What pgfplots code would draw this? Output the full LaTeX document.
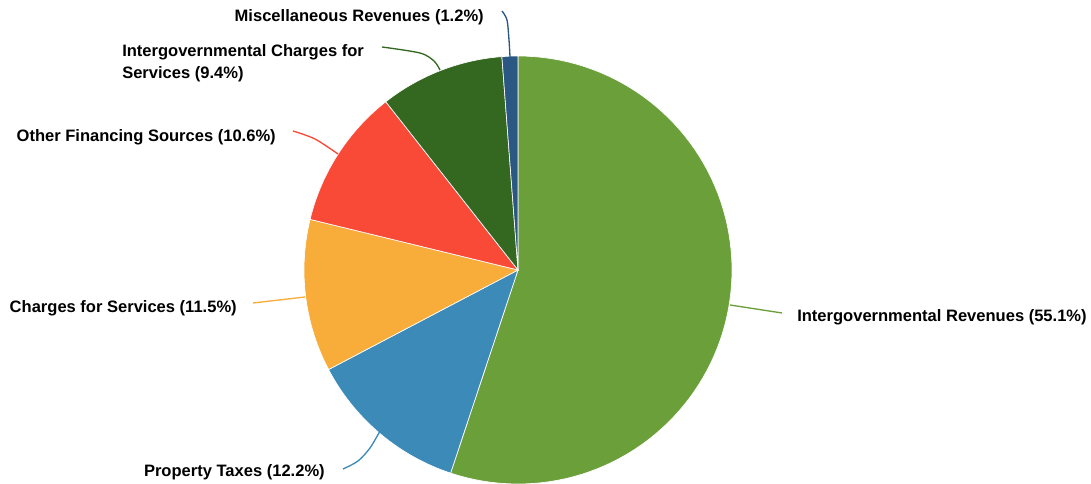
\documentclass[border=0pt]{standalone}
\usepackage{fontspec}
\setmainfont{Liberation Sans}
\usepackage{pgfplots}
\pgfplotsset{compat=1.18}
\definecolor{cA}{RGB}{106,159,58}
\definecolor{cB}{RGB}{60,138,184}
\definecolor{cC}{RGB}{248,172,58}
\definecolor{cD}{RGB}{249,74,55}
\definecolor{cE}{RGB}{52,104,32}
\definecolor{cF}{RGB}{42,88,130}
% slice: start percent, end percent, colour (centre 518,270; radius 214 px)
\newcommand\slice[3]{%
  \addplot[fill=#3, draw=white, line width=0.5pt, domain=#1:#2, samples=90, variable=\t]
    ({518+214*sin(3.6*\t)},{270-214*cos(3.6*\t)}) -- (axis cs:518,270) -- cycle;}
\tikzset{lbl/.style={font=\fontsize{12.4}{14}\selectfont\bfseries, text=black, inner sep=0pt}}
\begin{document}
\begin{tikzpicture}
\begin{axis}[name=ax, x=0.75pt, y=0.75pt, y dir=reverse,
  xmin=0, xmax=1091, ymin=0, ymax=484, scale only axis, hide axis, clip=false]
% shares (percent): 55.1, 12.2, 11.5, 10.6, 9.4, 1.2
\slice{0}{55.1}{cA}
\slice{55.1}{67.3}{cB}
\slice{67.3}{78.8}{cC}
\slice{78.8}{89.4}{cD}
\slice{89.4}{98.8}{cE}
\slice{98.8}{100}{cF}
% leader lines
\addplot[cF, smooth, line width=1pt] coordinates {(502,11) (507,20) (509,40) (510,57)};
\addplot[cE, smooth, line width=1pt] coordinates {(382,47) (420,53) (434,61) (440,70)};
\addplot[cD, smooth, line width=1pt] coordinates {(293,131) (315,139) (338,154)};
\addplot[cC, smooth, line width=1pt] coordinates {(253,303) (305,297)};
\addplot[cB, smooth, line width=1pt] coordinates {(343,469) (358,461) (370,448) (380,431)};
\addplot[cA, smooth, line width=1pt] coordinates {(730,305) (782,313)};
% labels
\node[lbl, anchor=base east] at (axis cs:484,21.5) {Miscellaneous Revenues (1.2\%)};
\node[lbl, anchor=base west] at (axis cs:122,56.5) {Intergovernmental Charges for};
\node[lbl, anchor=base west] at (axis cs:122,78.5) {Services (9.4\%)};
\node[lbl, anchor=base east] at (axis cs:276,141.5) {Other Financing Sources (10.6\%)};
\node[lbl, anchor=base east] at (axis cs:237,312) {Charges for Services (11.5\%)};
\node[lbl, anchor=base east] at (axis cs:325,476) {Property Taxes (12.2\%)};
\node[lbl, anchor=base west] at (axis cs:797,321.5) {Intergovernmental Revenues (55.1\%)};
\end{axis}
\pgfresetboundingbox
\useasboundingbox (ax.south west) rectangle (ax.north east);
\end{tikzpicture}
\end{document}
